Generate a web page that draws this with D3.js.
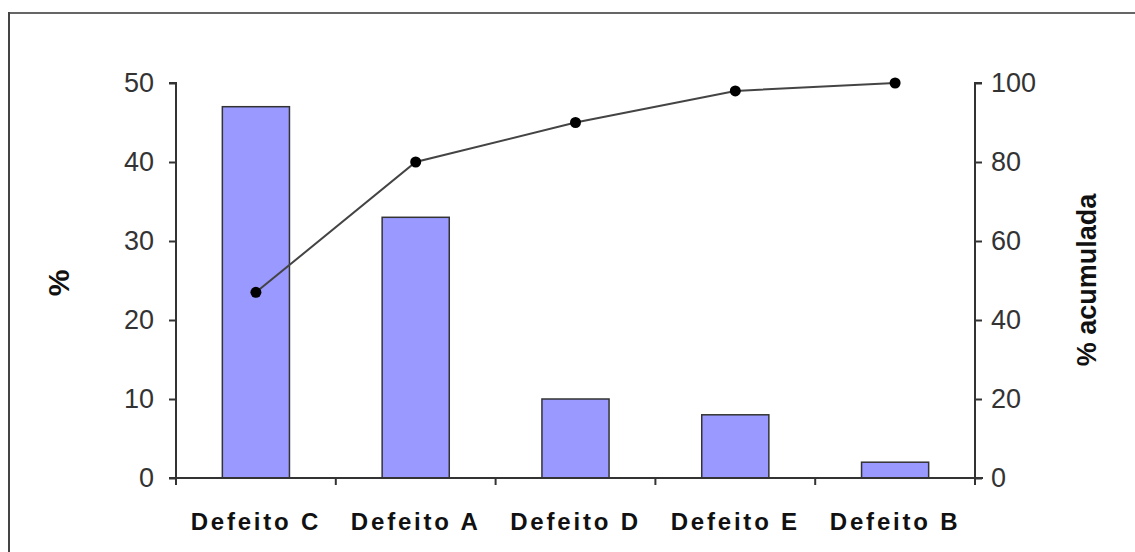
<!DOCTYPE html>
<html>
<head>
<meta charset="utf-8">
<script src="https://cdn.jsdelivr.net/npm/d3@7"></script>
<style>
  body { margin: 0; background: #fff; overflow: hidden; }
  svg { display: block; font-family: "Liberation Sans", Arial, sans-serif; }
</style>
</head>
<body>
<div id="container"></div>
<script>
// pareto data
let categories = ["Defeito C", "Defeito A", "Defeito D", "Defeito E", "Defeito B"];
let percents = [47, 33, 10, 8, 2];
let cumulative = [47, 80, 90, 98, 100];
let leftTicks = [0, 10, 20, 30, 40, 50];
let rightTicks = [0, 20, 40, 60, 80, 100];

let w = 1135;
let h = 552;
// plot area edges (don't call it "top", that's window.top)
let plotLeft = 176, plotRight = 975, plotTop = 83, plotBottom = 478;

let viz = d3.select("#container")
  .append("svg")
    .attr("width", w)
    .attr("height", h)
;

// outer frame, only top + left edges show (rest is cut off)
viz.append("line")
  .attr("x1", 9).attr("x2", w).attr("y1", 13).attr("y2", 13)
  .attr("stroke", "#666").attr("stroke-width", 2);
viz.append("line")
  .attr("x1", 9).attr("x2", 9).attr("y1", 12).attr("y2", h)
  .attr("stroke", "#444").attr("stroke-width", 2);

let xScale = d3.scaleBand()
  .domain(categories)
  .range([plotLeft, plotRight])
  .paddingInner(0.58)
  .paddingOuter(0.29);

let yLeft = d3.scaleLinear().domain([0, 50]).range([plotBottom, plotTop]);
let yRight = d3.scaleLinear().domain([0, 100]).range([plotBottom, plotTop]);

// bars
viz.append("g").selectAll("rect")
  .data(categories)
  .enter()
  .append("rect")
    .attr("x", d => xScale(d))
    .attr("width", xScale.bandwidth())
    .attr("y", (d, i) => yLeft(percents[i]))
    .attr("height", (d, i) => yLeft(0) - yLeft(percents[i]))
    .attr("fill", "#9999ff")
    .attr("stroke", "#333")
    .attr("stroke-width", 1.5);

// x axis: ticks at category boundaries
let step = xScale.step();
let boundaries = d3.range(categories.length + 1).map(i => plotLeft + i * step);
let xAxisGroup = viz.append("g");
xAxisGroup.append("line")
  .attr("x1", plotLeft - 7).attr("x2", plotRight + 8)
  .attr("y1", plotBottom).attr("y2", plotBottom)
  .attr("stroke", "#333").attr("stroke-width", 2);
xAxisGroup.selectAll(".xt")
  .data(boundaries)
  .enter()
  .append("line")
    .attr("x1", d => d).attr("x2", d => d)
    .attr("y1", plotBottom).attr("y2", plotBottom + 7)
    .attr("stroke", "#333").attr("stroke-width", 2);
xAxisGroup.selectAll(".xl")
  .data(categories)
  .enter()
  .append("text")
    .attr("x", d => xScale(d) + xScale.bandwidth() / 2)
    .attr("y", 530)
    .attr("text-anchor", "middle")
    .attr("font-size", 24)
    .attr("font-weight", "bold")
    .attr("letter-spacing", 2.8)
    .attr("fill", "#111")
    .text(d => d);

// left axis
let leftAxis = d3.axisLeft(yLeft).tickValues(leftTicks).tickSize(7).tickPadding(15);
let leftGroup = viz.append("g").attr("transform", "translate(" + plotLeft + ",0)").call(leftAxis);
leftGroup.select(".domain").attr("stroke", "#333").attr("stroke-width", 2).attr("d", "M-7," + plotTop + "H0V" + plotBottom);
leftGroup.selectAll("line").attr("stroke", "#333").attr("stroke-width", 2);
leftGroup.selectAll("text").attr("font-size", 27).attr("fill", "#333").attr("font-family", "Liberation Sans, Arial, sans-serif");

// right axis
let rightAxis = d3.axisRight(yRight).tickValues(rightTicks).tickSize(7).tickPadding(9);
let rightGroup = viz.append("g").attr("transform", "translate(" + plotRight + ",0)").call(rightAxis);
rightGroup.select(".domain").attr("stroke", "#333").attr("stroke-width", 2).attr("d", "M7," + plotTop + "H0V" + plotBottom);
rightGroup.selectAll("line").attr("stroke", "#333").attr("stroke-width", 2);
rightGroup.selectAll("text").attr("font-size", 27).attr("fill", "#333").attr("font-family", "Liberation Sans, Arial, sans-serif");

// cumulative line
let line = d3.line()
  .x((d, i) => xScale(categories[i]) + xScale.bandwidth() / 2)
  .y(d => yRight(d));
viz.append("path")
  .datum(cumulative)
  .attr("d", line)
  .attr("fill", "none")
  .attr("stroke", "#444")
  .attr("stroke-width", 2);
viz.append("g").selectAll("circle")
  .data(cumulative)
  .enter()
  .append("circle")
    .attr("cx", (d, i) => xScale(categories[i]) + xScale.bandwidth() / 2)
    .attr("cy", d => yRight(d))
    .attr("r", 5.5)
    .attr("fill", "#000");

// axis titles
viz.append("text")
  .attr("transform", "translate(69,283) rotate(-90)")
  .attr("text-anchor", "middle")
  .attr("font-size", 30)
  .attr("font-weight", "bold")
  .attr("fill", "#111")
  .text("%");
viz.append("text")
  .attr("transform", "translate(1096,280) rotate(-90)")
  .attr("text-anchor", "middle")
  .attr("font-size", 27)
  .attr("font-weight", "bold")
  .attr("fill", "#111")
  .text("% acumulada");
</script>
</body>
</html>
